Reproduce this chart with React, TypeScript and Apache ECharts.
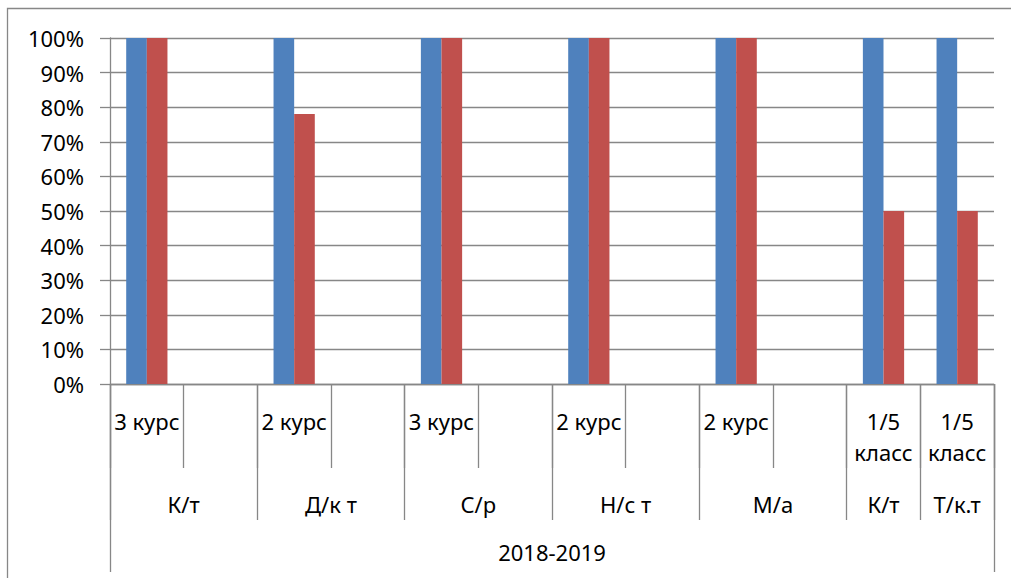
import React, { useEffect, useRef } from "react";
import * as echarts from "echarts";

const leafLabels = ["3 курс", "", "2 курс", "", "3 курс", "", "2 курс", "", "2 курс", "", "1/5\nкласс", "1/5\nкласс"];
const blueValues = [1, null, 1, null, 1, null, 1, null, 1, null, 1, 1];
const redValues = [1, null, 0.78, null, 1, null, 1, null, 1, null, 0.5, 0.5];
const groupNames = ["К/т", "Д/к т", "С/р", "Н/с т", "М/а", "К/т", "Т/к.т"];
const groupSizes = [2, 2, 2, 2, 2, 1, 1];
const outerLabel = "2018-2019";

const FONT = "'Noto Sans', sans-serif";
const GRAY = "#878787";

export default function App() {
  const ref = useRef<HTMLDivElement>(null);
  useEffect(() => {
    if (!ref.current) return;
    const chart = echarts.init(ref.current, undefined, { renderer: "svg" });
    const total = leafLabels.length;
    const bounds: number[] = [0];
    const centers: number[] = [];
    let acc = 0;
    groupSizes.forEach((s) => {
      centers.push(acc + s / 2);
      acc += s;
      bounds.push(acc);
    });
    const textStyle = { color: "#000", fontFamily: FONT, fontSize: 22 };
    chart.setOption({
      animation: false,
      graphic: [
        {
          type: "rect",
          shape: { x: 7.5, y: 8.5, width: 1200, height: 800 },
          style: { fill: "none", stroke: GRAY, lineWidth: 1.3 },
          silent: true,
        },
      ],
      grid: { left: 110, right: 17, top: 38, bottom: 194, containLabel: false },
      xAxis: [
        {
          type: "category",
          data: leafLabels,
          position: "bottom",
          axisLine: { show: true, lineStyle: { color: GRAY, width: 1.3 } },
          axisTick: { show: true, interval: 0, length: 84, lineStyle: { color: GRAY, width: 1.3 } },
          axisLabel: { interval: 0, margin: 21, lineHeight: 31, align: "center", ...textStyle },
          splitLine: { show: false },
        },
        {
          type: "value",
          min: 0,
          max: total,
          position: "bottom",
          axisLine: { show: false },
          axisTick: { show: true, customValues: bounds, length: 136, lineStyle: { color: GRAY, width: 1.3 } },
          axisLabel: {
            customValues: centers,
            margin: 107,
            lineHeight: 26,
            formatter: (v: number) => {
              const i = centers.findIndex((c) => Math.abs(c - v) < 1e-6);
              return i >= 0 ? groupNames[i] : "";
            },
            ...textStyle,
          },
          splitLine: { show: false },
        },
        {
          type: "value",
          min: 0,
          max: total,
          position: "bottom",
          axisLine: { show: false },
          axisTick: { show: true, customValues: [0, total], length: 188, lineStyle: { color: GRAY, width: 1.3 } },
          axisLabel: {
            customValues: [total / 2],
            margin: 155,
            lineHeight: 26,
            formatter: () => outerLabel,
            ...textStyle,
          },
          splitLine: { show: false },
        },
      ],
      yAxis: {
        type: "value",
        min: 0,
        max: 1,
        interval: 0.1,
        axisLine: { show: true, lineStyle: { color: GRAY, width: 1.3 } },
        axisTick: { show: true, length: 10, lineStyle: { color: GRAY, width: 1.3 } },
        axisLabel: {
          margin: 26,
          formatter: (v: number) => Math.round(v * 100) + "%",
          ...textStyle,
        },
        splitLine: { show: true, lineStyle: { color: GRAY, width: 1.3 } },
      },
      series: [
        {
          name: "Ряд1",
          type: "bar",
          xAxisIndex: 0,
          data: blueValues,
          barGap: "0%",
          barCategoryGap: "44%",
          itemStyle: { color: "#4F81BD" },
        },
        {
          name: "Ряд2",
          type: "bar",
          xAxisIndex: 0,
          data: redValues,
          barGap: "0%",
          barCategoryGap: "44%",
          itemStyle: { color: "#C0504D" },
        },
      ],
    });
    return () => chart.dispose();
  }, []);
  return (
    <div
      ref={ref}
      style={{ position: "fixed", left: 0, top: 0, width: 1011, height: 578, background: "#fff" }}
    />
  );
}
